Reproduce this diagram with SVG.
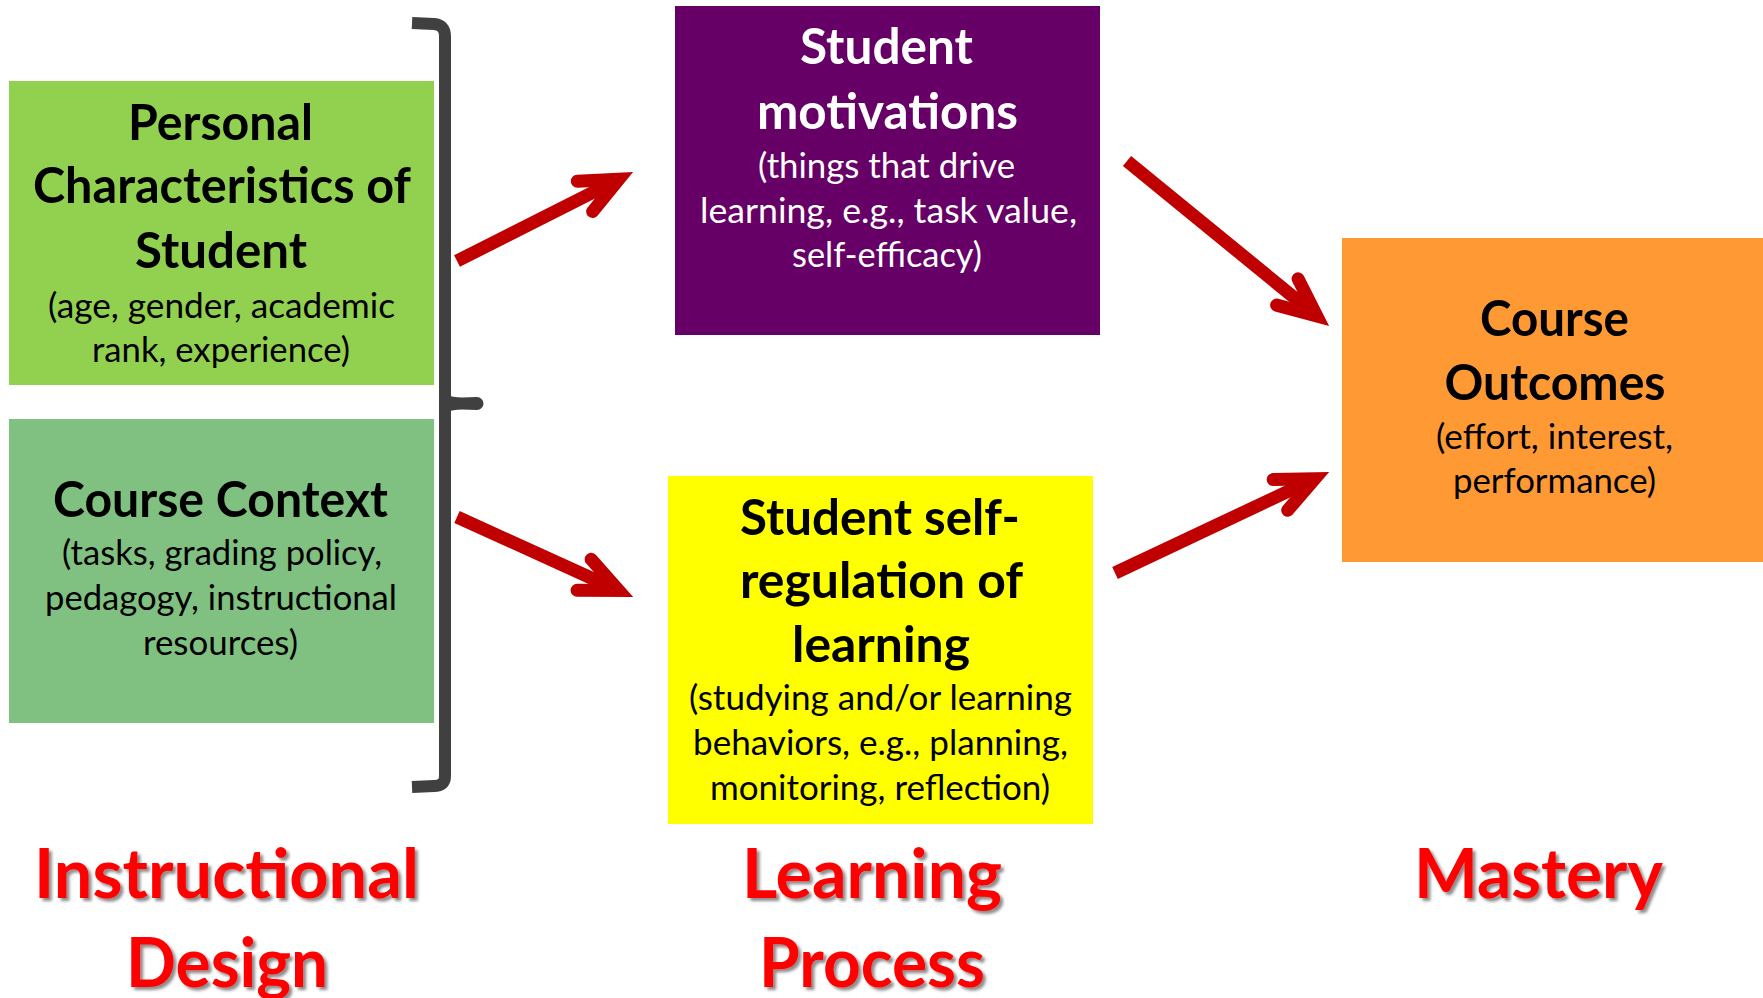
<svg xmlns="http://www.w3.org/2000/svg" width="1763" height="998" viewBox="0 0 1763 998">
  <style>
    .title { font-family: Lato, "Liberation Sans", sans-serif; font-weight: 700; font-size: 50px; text-anchor: middle; }
    .sub { font-family: Lato, "Liberation Sans", sans-serif; font-weight: 400; font-size: 35px; text-anchor: middle; }
    .dark { fill: #000000; }
    .light { fill: #FFFFFF; }
    .label { font-family: Lato, "Liberation Sans", sans-serif; font-weight: 700; font-size: 68px; text-anchor: middle; fill: #FF0000; filter: url(#shadow); }
    .flow { stroke: #C00000; stroke-width: 13; fill: none; stroke-linecap: butt; marker-end: url(#openHead); }
  </style>
  <defs>
    <marker id="openHead" markerUnits="userSpaceOnUse" orient="auto" refX="0" refY="0" markerWidth="80" markerHeight="80" overflow="visible">
      <path d="M-38,-17 L0,0 L-38,17" fill="none" stroke="#C00000" stroke-width="13" stroke-linecap="round" stroke-linejoin="miter"/>
    </marker>
    <filter id="shadow" x="-10%" y="-10%" width="130%" height="140%">
      <feDropShadow dx="3" dy="3" stdDeviation="1.6" flood-color="#000000" flood-opacity="0.45"/>
    </filter>
  </defs>

  <rect width="1763" height="998" fill="#FFFFFF"/>

  <!-- left-hand factors -->
  <g id="personal-characteristics">
    <rect x="9" y="81" width="425" height="304" fill="#92D050"/>
    <text class="title dark" x="220.5" y="140" textLength="185" lengthAdjust="spacingAndGlyphs">Personal</text>
    <text class="title dark" x="222" y="203" textLength="378" lengthAdjust="spacingAndGlyphs">Characteristics of</text>
    <text class="title dark" x="221" y="268" textLength="172" lengthAdjust="spacingAndGlyphs">Student</text>
    <text class="sub dark" x="221.5" y="318" textLength="347" lengthAdjust="spacingAndGlyphs">(age, gender, academic</text>
    <text class="sub dark" x="221" y="362" textLength="258" lengthAdjust="spacingAndGlyphs">rank, experience)</text>
  </g>

  <g id="course-context">
    <rect x="9" y="419" width="425" height="304" fill="#80C080"/>
    <text class="title dark" x="220.5" y="517" textLength="335" lengthAdjust="spacingAndGlyphs">Course Context</text>
    <text class="sub dark" x="222" y="565" textLength="320" lengthAdjust="spacingAndGlyphs">(tasks, grading policy,</text>
    <text class="sub dark" x="221" y="610" textLength="352" lengthAdjust="spacingAndGlyphs">pedagogy, instructional</text>
    <text class="sub dark" x="220.5" y="655" textLength="155" lengthAdjust="spacingAndGlyphs">resources)</text>
  </g>

  <!-- bracket grouping the two factors -->
  <g id="bracket" fill="#404040">
    <path d="M412,23 L434,24 Q445,25 445,36 L445,776 Q445,786 434,786 L412,787" fill="none" stroke="#404040" stroke-width="12"/>
    <path d="M445,394 C455,399 465,397 477,397 A6.5,6.5 0 0 1 477,410 C465,410 455,408 445,413 Z"/>
  </g>

  <!-- learning process -->
  <g id="student-motivations">
    <rect x="675" y="6" width="425" height="329" fill="#660066"/>
    <text class="title light" x="886.5" y="64" textLength="173" lengthAdjust="spacingAndGlyphs">Student</text>
    <text class="title light" x="887.5" y="129" textLength="261" lengthAdjust="spacingAndGlyphs">motivations</text>
    <text class="sub light" x="886.5" y="178" textLength="257" lengthAdjust="spacingAndGlyphs">(things that drive</text>
    <text class="sub light" x="888.5" y="223" textLength="377" lengthAdjust="spacingAndGlyphs">learning, e.g., task value,</text>
    <text class="sub light" x="887" y="267" textLength="190" lengthAdjust="spacingAndGlyphs">self-efficacy)</text>
  </g>

  <g id="self-regulation">
    <rect x="668" y="476" width="425" height="348" fill="#FFFF00"/>
    <text class="title dark" x="880" y="535" textLength="280" lengthAdjust="spacingAndGlyphs">Student self-</text>
    <text class="title dark" x="881.5" y="598" textLength="283" lengthAdjust="spacingAndGlyphs">regulation of</text>
    <text class="title dark" x="881" y="662" textLength="178" lengthAdjust="spacingAndGlyphs">learning</text>
    <text class="sub dark" x="880.5" y="710" textLength="383" lengthAdjust="spacingAndGlyphs">(studying and/or learning</text>
    <text class="sub dark" x="880.5" y="755" textLength="375" lengthAdjust="spacingAndGlyphs">behaviors, e.g., planning,</text>
    <text class="sub dark" x="880" y="800" textLength="340" lengthAdjust="spacingAndGlyphs">monitoring, reflection)</text>
  </g>

  <!-- mastery -->
  <g id="course-outcomes">
    <rect x="1342" y="238" width="421" height="324" fill="#FF9933"/>
    <text class="title dark" x="1554.5" y="336" textLength="149" lengthAdjust="spacingAndGlyphs">Course</text>
    <text class="title dark" x="1555" y="400" textLength="221" lengthAdjust="spacingAndGlyphs">Outcomes</text>
    <text class="sub dark" x="1554.5" y="449" textLength="237" lengthAdjust="spacingAndGlyphs">(effort, interest,</text>
    <text class="sub dark" x="1554.5" y="493" textLength="203" lengthAdjust="spacingAndGlyphs">performance)</text>
  </g>

  <!-- connectors -->
  <g id="connectors">
    <line class="flow" x1="457" y1="261" x2="618.9" y2="179.2"/>
    <line class="flow" x1="457" y1="517" x2="618.7" y2="590.5"/>
    <line class="flow" x1="1127" y1="161" x2="1316.8" y2="316"/>
    <line class="flow" x1="1115" y1="573" x2="1314.8" y2="478.7"/>
  </g>

  <!-- stage labels -->
  <g id="stage-labels">
    <text class="label" x="226.5" y="898" textLength="385" lengthAdjust="spacingAndGlyphs">Instructional</text>
    <text class="label" x="227" y="987" textLength="202" lengthAdjust="spacingAndGlyphs">Design</text>
    <text class="label" x="872" y="898" textLength="260" lengthAdjust="spacingAndGlyphs">Learning</text>
    <text class="label" x="872" y="987" textLength="226" lengthAdjust="spacingAndGlyphs">Process</text>
    <text class="label" x="1538.5" y="898" textLength="249" lengthAdjust="spacingAndGlyphs">Mastery</text>
  </g>
</svg>
